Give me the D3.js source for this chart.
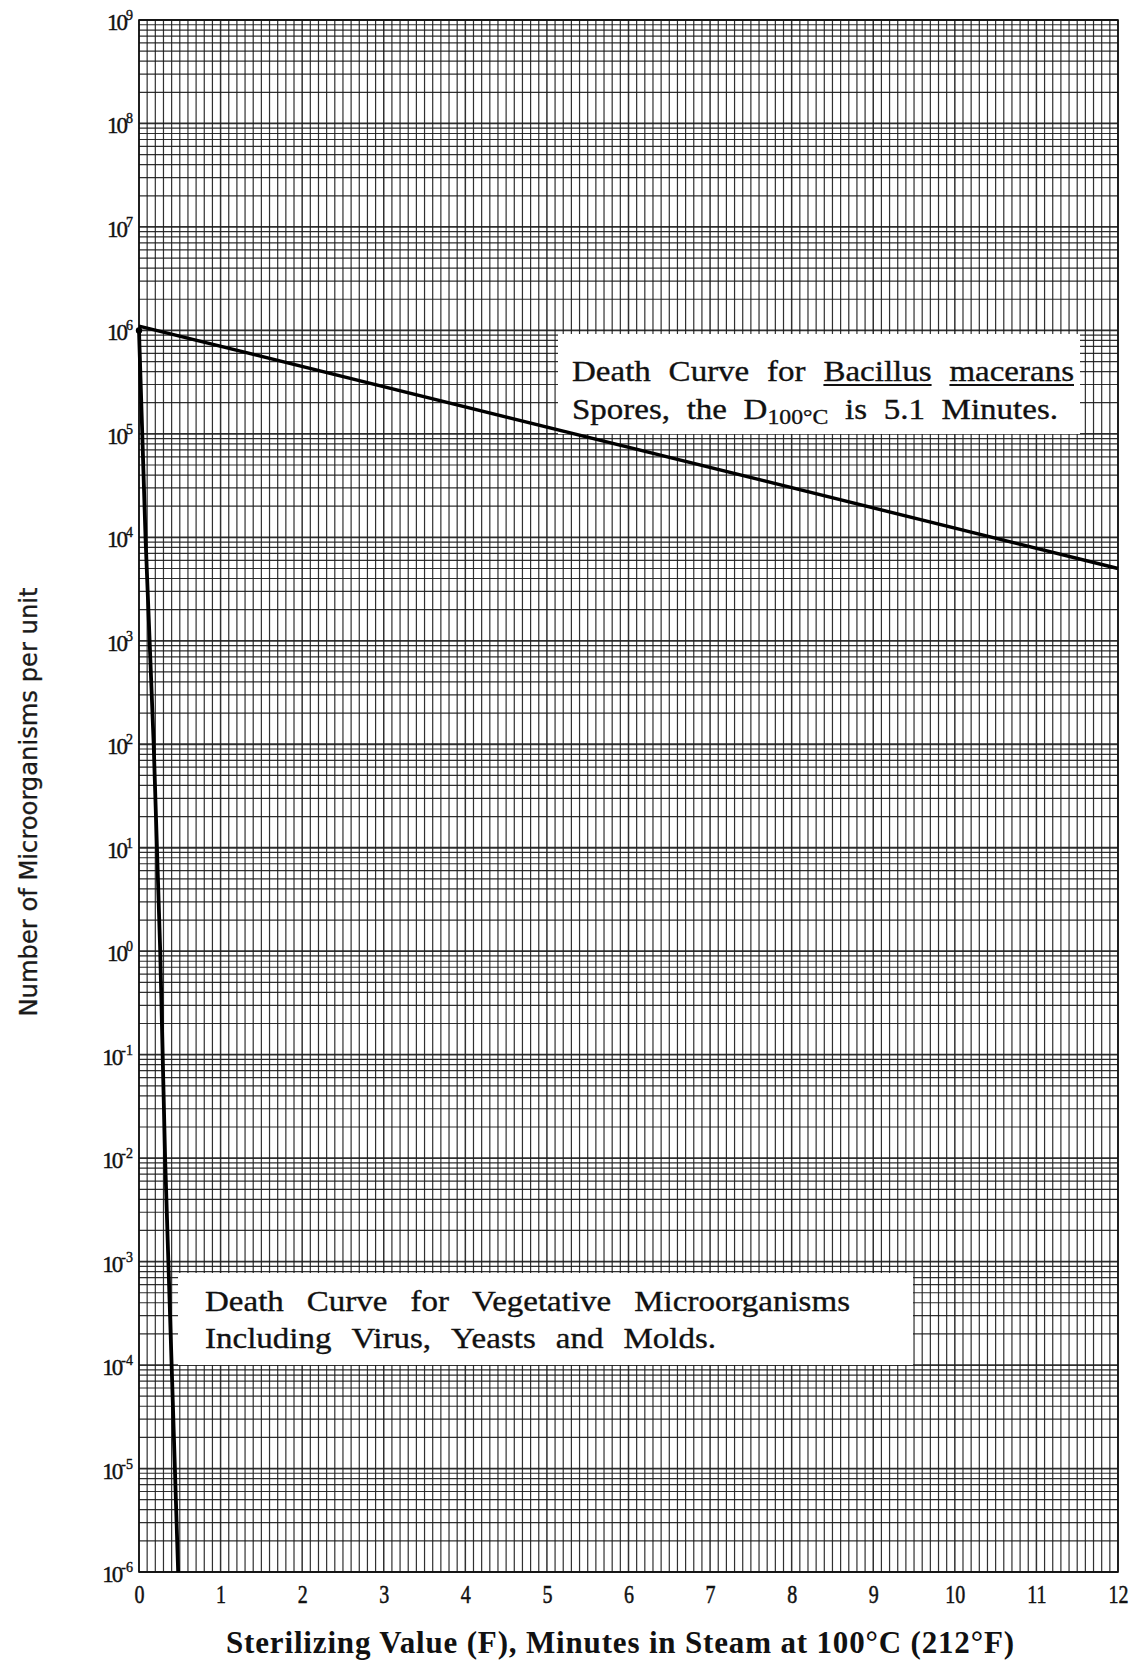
<!DOCTYPE html>
<html><head><meta charset="utf-8">
<script src="https://cdn.jsdelivr.net/npm/d3@7"></script>
<style>body{margin:0;background:#fff} svg{display:block}</style>
</head><body>
<script>
// ---------- data ----------
const xTicks = [0,1,2,3,4,5,6,7,8,9,10,11,12];
const yExponents = [-6,-5,-4,-3,-2,-1,0,1,2,3,4,5,6,7,8,9];
const bacillusF = [0, 12];
const bacillusN = [1.1e6, 5.0e3];
const vegetativeF = [0, 0.04, 0.08, 0.13, 0.18, 0.22, 0.26, 0.29, 0.32, 0.36, 0.40, 0.44, 0.48];
const vegetativeN = [1e6, 1e5, 1e4, 1e3, 1e2, 1e1, 1e0, 1e-1, 1e-2, 1e-3, 1e-4, 1e-5, 1e-6];
const xTitle = "Sterilizing Value (F), Minutes in Steam at 100°C (212°F)";
const yTitle = "Number of Microorganisms per unit";
const note1Line1 = [{t:"Death"},{t:"Curve"},{t:"for"},{t:"Bacillus",u:true},{t:"macerans",u:true}];
const note1Line2 = [{t:"Spores,"},{t:"the"},{t:"D",sub:"100°C"},{t:"is"},{t:"5.1"},{t:"Minutes."}];
const note2Line1 = [{t:"Death"},{t:"Curve"},{t:"for"},{t:"Vegetative"},{t:"Microorganisms"}];
const note2Line2 = [{t:"Including"},{t:"Virus,"},{t:"Yeasts"},{t:"and"},{t:"Molds."}];

// ---------- layout ----------
const W = 1135, H = 1662;
const svg = d3.select("body").append("svg").attr("width", W).attr("height", H);
svg.append("rect").attr("width", W).attr("height", H).attr("fill", "#fff");

const x = d3.scaleLinear().domain([0, 12]).range([139, 1118]);
const y = d3.scaleLog().domain([1e-6, 1e9]).range([1572, 20]);

const grid = svg.append("g").attr("stroke", "#1a1a1a");
const vx = d3.range(0, 121).map(i => i / 10);
grid.selectAll("line.v").data(vx).join("line")
  .attr("x1", d => x(d)).attr("x2", d => x(d))
  .attr("y1", y(1e9)).attr("y2", y(1e-6))
  .attr("stroke-width", d => (Math.abs(d - Math.round(d)) < 1e-9) ? 1.5 : 1.2)
  .attr("stroke-opacity", 0.9);
const hy = [];
for (let e = -6; e <= 8; e++) for (let m = 1; m <= 9; m++) hy.push({v: m * Math.pow(10, e), major: m === 1});
hy.push({v: 1e9, major: true});
grid.selectAll("line.h").data(hy).join("line")
  .attr("x1", x(0)).attr("x2", x(12))
  .attr("y1", d => y(d.v)).attr("y2", d => y(d.v))
  .attr("stroke-width", d => d.major ? 1.8 : 1.2)
  .attr("stroke-opacity", 0.9);
svg.append("rect").attr("x", x(0)).attr("y", y(1e9))
  .attr("width", x(12) - x(0)).attr("height", y(1e-6) - y(1e9))
  .attr("fill", "none").attr("stroke", "#111").attr("stroke-width", 1.6);

// ---------- annotation boxes ----------
const serif = "'Liberation Serif','Times New Roman',serif";
svg.append("rect").attr("x", 558).attr("y", 334).attr("width", 522).attr("height", 100).attr("fill", "#fff");
svg.append("rect").attr("x", 178).attr("y", 1273).attr("width", 735).attr("height", 92).attr("fill", "#fff");

function wordNode(g, w, fs, sx) {
  const t = g.append("text").attr("font-family", serif).attr("font-size", fs)
    .attr("fill", "#111").attr("stroke", "#111").attr("stroke-width", 0.35);
  t.append("tspan").text(w.t);
  if (w.sub) t.append("tspan").attr("font-size", fs * 0.72).attr("dy", 5).text(w.sub);
  const L = t.node().getComputedTextLength();
  t.attr("textLength", L * sx).attr("lengthAdjust", "spacingAndGlyphs");
  return {t, w: L * sx};
}
function justLine(words, x0, x1, base, fs, sx) {
  const g = svg.append("g");
  const nodes = words.map(w => wordNode(g, w, fs, sx));
  const total = d3.sum(nodes, n => n.w);
  const gap = (x1 - x0 - total) / (words.length - 1);
  let cx = x0;
  nodes.forEach((n, i) => {
    n.t.attr("x", cx).attr("y", base);
    if (words[i].u) {
      g.append("line").attr("x1", cx).attr("x2", cx + n.w)
        .attr("y1", base + 4).attr("y2", base + 4)
        .attr("stroke", "#111").attr("stroke-width", 1.8);
    }
    cx += n.w + gap;
  });
}
justLine(note1Line1, 572, 1074, 381, 30, 1.1);
justLine(note1Line2, 572, 1058, 419, 30, 1.1);
justLine(note2Line1, 205, 850, 1311, 30, 1.1);
justLine(note2Line2, 205, 716, 1348, 30, 1.1);

// ---------- curves ----------
const line = d3.line().x(d => x(d[0])).y(d => y(d[1]));
svg.append("path").datum(bacillusF.map((f, i) => [f, bacillusN[i]]))
  .attr("d", line).attr("fill", "none").attr("stroke", "#000").attr("stroke-width", 3.4);
svg.append("path").datum(vegetativeF.map((f, i) => [f, vegetativeN[i]]))
  .attr("d", line).attr("fill", "none").attr("stroke", "#000").attr("stroke-width", 3.8)
  .attr("stroke-linejoin", "round");
svg.append("circle").attr("cx", x(0)).attr("cy", y(1e6)).attr("r", 3.2).attr("fill", "#000");

// ---------- axes ----------
const xAxis = svg.append("g").attr("transform", `translate(0,${y(1e-6)})`)
  .call(d3.axisBottom(x).tickValues(xTicks).tickSize(0).tickPadding(0).tickFormat(d3.format("d")));
xAxis.select(".domain").remove();
xAxis.selectAll("text").attr("font-family", serif).attr("font-size", 25).attr("fill", "#111")
  .attr("stroke", "#111").attr("stroke-width", 0.5)
  .attr("dy", null).attr("y", 31)
  .each(function(d) {
    const L = this.getComputedTextLength();
    d3.select(this).attr("textLength", L * 0.8).attr("lengthAdjust", "spacingAndGlyphs");
  });

const yl = svg.append("g");
yExponents.forEach(e => {
  const t = yl.append("text").attr("x", 133).attr("y", y(Math.pow(10, e)) + 10)
    .attr("text-anchor", "end").attr("font-family", serif).attr("fill", "#111")
    .attr("stroke", "#111").attr("stroke-width", 0.4);
  t.append("tspan").attr("font-size", 23).attr("letter-spacing", -2).text("10");
  t.append("tspan").attr("font-size", 14).attr("dy", -10).text(String(e));
});

svg.append("text").attr("x", 620).attr("y", 1653).attr("text-anchor", "middle")
  .attr("font-family", serif).attr("font-weight", "bold").attr("font-size", 31)
  .attr("fill", "#111").attr("textLength", 788).attr("lengthAdjust", "spacing").text(xTitle);

svg.append("text").attr("transform", "translate(37,802) rotate(-90)").attr("text-anchor", "middle")
  .attr("font-family", "'DejaVu Sans Condensed','DejaVu Sans','Noto Sans',sans-serif")
  .attr("font-size", 25).attr("fill", "#1a1a1a").attr("stroke", "#1a1a1a").attr("stroke-width", 0.3)
  .attr("textLength", 429).attr("lengthAdjust", "spacingAndGlyphs").text(yTitle);
</script>
</body></html>
